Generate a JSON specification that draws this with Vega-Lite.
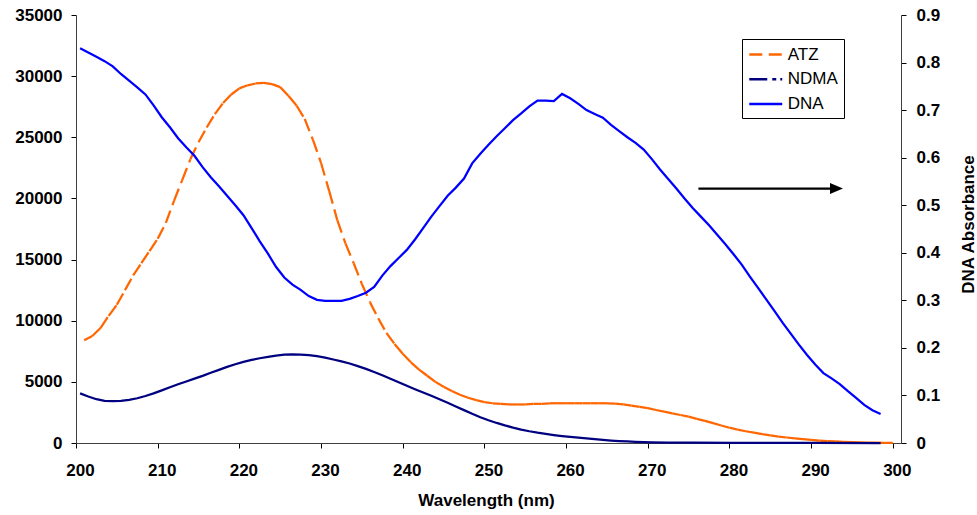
{
  "$schema": "https://vega.github.io/schema/vega-lite/v6.json",
  "width": 825,
  "height": 428,
  "autosize": "none",
  "padding": {"left": 76, "top": 15, "right": 76, "bottom": 72},
  "background": "white",
  "config": {
    "view": {"stroke": null},
    "font": "Liberation Sans",
    "axis": {
      "labelFont": "Liberation Sans", "labelFontSize": 17, "labelFontWeight": "bold", "labelColor": "#000",
      "titleFont": "Liberation Sans", "titleFontSize": 17, "titleFontWeight": "bold", "titleColor": "#000",
      "grid": false, "domainColor": "#404040", "tickColor": "#000", "tickSize": 5, "domainWidth": 1, "tickWidth": 1
    }
  },
  "datasets": {
    "atz": [
      {"nm":201,"v":8400},{"nm":202,"v":8750},{"nm":203,"v":9400},{"nm":204,"v":10400},{"nm":205,"v":11300},
      {"nm":206,"v":12500},{"nm":207,"v":13700},{"nm":208,"v":14700},{"nm":209,"v":15700},{"nm":210,"v":16700},
      {"nm":211,"v":18000},{"nm":212,"v":19800},{"nm":213,"v":21500},{"nm":214,"v":23200},{"nm":215,"v":24600},
      {"nm":216,"v":25800},{"nm":217,"v":26900},{"nm":218,"v":27800},{"nm":219,"v":28500},{"nm":220,"v":29000},
      {"nm":221,"v":29250},{"nm":222,"v":29400},{"nm":223,"v":29450},{"nm":224,"v":29350},{"nm":225,"v":29100},
      {"nm":226,"v":28400},{"nm":227,"v":27600},{"nm":228,"v":26500},{"nm":229,"v":24800},{"nm":230,"v":22900},
      {"nm":231,"v":20600},{"nm":232,"v":18200},{"nm":233,"v":16300},{"nm":234,"v":14700},{"nm":235,"v":13000},
      {"nm":236,"v":11500},{"nm":237,"v":10200},{"nm":238,"v":9000},{"nm":239,"v":8100},{"nm":240,"v":7300},
      {"nm":241,"v":6600},{"nm":242,"v":6000},{"nm":243,"v":5500},{"nm":244,"v":5000},{"nm":245,"v":4600},
      {"nm":246,"v":4250},{"nm":247,"v":3950},{"nm":248,"v":3700},{"nm":249,"v":3500},{"nm":250,"v":3350},
      {"nm":251,"v":3250},{"nm":252,"v":3200},{"nm":253,"v":3150},{"nm":254,"v":3150},{"nm":255,"v":3150},
      {"nm":256,"v":3200},{"nm":257,"v":3200},{"nm":258,"v":3250},{"nm":259,"v":3250},{"nm":260,"v":3250},
      {"nm":261,"v":3250},{"nm":262,"v":3250},{"nm":263,"v":3250},{"nm":264,"v":3250},{"nm":265,"v":3250},
      {"nm":266,"v":3220},{"nm":267,"v":3150},{"nm":268,"v":3060},{"nm":269,"v":2950},{"nm":270,"v":2850},
      {"nm":271,"v":2700},{"nm":272,"v":2560},{"nm":273,"v":2420},{"nm":274,"v":2290},{"nm":275,"v":2150},
      {"nm":276,"v":1980},{"nm":277,"v":1810},{"nm":278,"v":1620},{"nm":279,"v":1430},{"nm":280,"v":1250},
      {"nm":281,"v":1100},{"nm":282,"v":960},{"nm":283,"v":840},{"nm":284,"v":720},{"nm":285,"v":620},
      {"nm":286,"v":530},{"nm":287,"v":450},{"nm":288,"v":380},{"nm":289,"v":310},{"nm":290,"v":250},
      {"nm":291,"v":200},{"nm":292,"v":160},{"nm":293,"v":125},{"nm":294,"v":95},{"nm":295,"v":70},
      {"nm":296,"v":50},{"nm":297,"v":35},{"nm":298,"v":25},{"nm":299,"v":15},{"nm":300,"v":10}
    ],
    "ndma": [
      {"nm":200.5,"v":4060},{"nm":201.5,"v":3800},{"nm":202.5,"v":3580},{"nm":203.5,"v":3450},{"nm":204.5,"v":3420},
      {"nm":205.5,"v":3440},{"nm":206.5,"v":3530},{"nm":207.5,"v":3660},{"nm":208.5,"v":3840},{"nm":209.5,"v":4060},
      {"nm":210.5,"v":4300},{"nm":211.5,"v":4560},{"nm":212.5,"v":4800},{"nm":213.5,"v":5030},{"nm":214.5,"v":5260},
      {"nm":215.5,"v":5490},{"nm":216.5,"v":5740},{"nm":217.5,"v":5980},{"nm":218.5,"v":6220},{"nm":219.5,"v":6440},
      {"nm":220.5,"v":6630},{"nm":221.5,"v":6790},{"nm":222.5,"v":6930},{"nm":223.5,"v":7050},{"nm":224.5,"v":7150},
      {"nm":225.5,"v":7220},{"nm":226.5,"v":7250},{"nm":227.5,"v":7230},{"nm":228.5,"v":7180},{"nm":229.5,"v":7100},
      {"nm":230.5,"v":6980},{"nm":231.5,"v":6830},{"nm":232.5,"v":6680},{"nm":233.5,"v":6500},{"nm":234.5,"v":6290},
      {"nm":235.5,"v":6060},{"nm":236.5,"v":5810},{"nm":237.5,"v":5540},{"nm":238.5,"v":5260},{"nm":239.5,"v":4970},
      {"nm":240.5,"v":4680},{"nm":241.5,"v":4400},{"nm":242.5,"v":4130},{"nm":243.5,"v":3860},{"nm":244.5,"v":3580},
      {"nm":245.5,"v":3290},{"nm":246.5,"v":2990},{"nm":247.5,"v":2690},{"nm":248.5,"v":2390},{"nm":249.5,"v":2110},
      {"nm":250.5,"v":1860},{"nm":251.5,"v":1640},{"nm":252.5,"v":1440},{"nm":253.5,"v":1260},{"nm":254.5,"v":1100},
      {"nm":255.5,"v":960},{"nm":256.5,"v":840},{"nm":257.5,"v":740},{"nm":258.5,"v":650},{"nm":259.5,"v":570},
      {"nm":260.5,"v":500},{"nm":261.5,"v":430},{"nm":262.5,"v":370},{"nm":263.5,"v":310},{"nm":264.5,"v":250},
      {"nm":265.5,"v":200},{"nm":266.5,"v":160},{"nm":267.5,"v":125},{"nm":268.5,"v":95},{"nm":269.5,"v":75},
      {"nm":270.5,"v":60},{"nm":272.5,"v":40},{"nm":275.5,"v":25},{"nm":280.5,"v":12},{"nm":285.5,"v":6},
      {"nm":290.5,"v":2},{"nm":298.5,"v":0}
    ],
    "dna": [
      {"nm":200.5,"v":0.830},{"nm":201.5,"v":0.821},{"nm":202.5,"v":0.812},{"nm":203.5,"v":0.803},{"nm":204.5,"v":0.792},
      {"nm":205.5,"v":0.776},{"nm":206.5,"v":0.762},{"nm":207.5,"v":0.748},{"nm":208.5,"v":0.733},{"nm":209.5,"v":0.710},
      {"nm":210.5,"v":0.685},{"nm":211.5,"v":0.664},{"nm":212.5,"v":0.641},{"nm":213.5,"v":0.622},{"nm":214.5,"v":0.604},
      {"nm":215.5,"v":0.580},{"nm":216.5,"v":0.559},{"nm":217.5,"v":0.540},{"nm":218.5,"v":0.520},{"nm":219.5,"v":0.500},
      {"nm":220.5,"v":0.479},{"nm":221.5,"v":0.452},{"nm":222.5,"v":0.424},{"nm":223.5,"v":0.398},{"nm":224.5,"v":0.370},
      {"nm":225.5,"v":0.348},{"nm":226.5,"v":0.333},{"nm":227.5,"v":0.322},{"nm":228.5,"v":0.309},{"nm":229.5,"v":0.301},
      {"nm":230.5,"v":0.299},{"nm":231.5,"v":0.299},{"nm":232.5,"v":0.299},{"nm":233.5,"v":0.303},{"nm":234.5,"v":0.309},
      {"nm":235.5,"v":0.316},{"nm":236.5,"v":0.328},{"nm":237.5,"v":0.352},{"nm":238.5,"v":0.372},{"nm":239.5,"v":0.389},
      {"nm":240.5,"v":0.406},{"nm":241.5,"v":0.428},{"nm":242.5,"v":0.452},{"nm":243.5,"v":0.476},{"nm":244.5,"v":0.498},
      {"nm":245.5,"v":0.520},{"nm":246.5,"v":0.537},{"nm":247.5,"v":0.556},{"nm":248.5,"v":0.588},{"nm":249.5,"v":0.608},
      {"nm":250.5,"v":0.627},{"nm":251.5,"v":0.645},{"nm":252.5,"v":0.662},{"nm":253.5,"v":0.679},{"nm":254.5,"v":0.693},
      {"nm":255.5,"v":0.708},{"nm":256.5,"v":0.720},{"nm":257.5,"v":0.720},{"nm":258.5,"v":0.719},{"nm":259.5,"v":0.734},
      {"nm":260.5,"v":0.725},{"nm":261.5,"v":0.713},{"nm":262.5,"v":0.700},{"nm":263.5,"v":0.692},{"nm":264.5,"v":0.684},
      {"nm":265.5,"v":0.669},{"nm":266.5,"v":0.656},{"nm":267.5,"v":0.643},{"nm":268.5,"v":0.631},{"nm":269.5,"v":0.617},
      {"nm":270.5,"v":0.597},{"nm":271.5,"v":0.575},{"nm":272.5,"v":0.555},{"nm":273.5,"v":0.535},{"nm":274.5,"v":0.514},
      {"nm":275.5,"v":0.494},{"nm":276.5,"v":0.476},{"nm":277.5,"v":0.458},{"nm":278.5,"v":0.438},{"nm":279.5,"v":0.418},
      {"nm":280.5,"v":0.397},{"nm":281.5,"v":0.375},{"nm":282.5,"v":0.350},{"nm":283.5,"v":0.326},{"nm":284.5,"v":0.302},
      {"nm":285.5,"v":0.278},{"nm":286.5,"v":0.253},{"nm":287.5,"v":0.230},{"nm":288.5,"v":0.207},{"nm":289.5,"v":0.185},
      {"nm":290.5,"v":0.165},{"nm":291.5,"v":0.147},{"nm":292.5,"v":0.136},{"nm":293.5,"v":0.124},{"nm":294.5,"v":0.109},
      {"nm":295.5,"v":0.095},{"nm":296.5,"v":0.080},{"nm":297.5,"v":0.069},{"nm":298.5,"v":0.061}
    ],
    "arrow": [
      {"nm": 276.2, "nm2": 292.4, "head": 293.1, "v": 0.535}
    ]
  },
  "encoding": {
    "x": {
      "field": "nm", "type": "quantitative",
      "scale": {"domain": [200, 301], "nice": false, "zero": false},
      "axis": {
        "values": [200, 210, 220, 230, 240, 250, 260, 270, 280, 290, 300],
        "format": "d", "title": "Wavelength (nm)", "labelFlush": false,
        "labelPadding": 14, "labelOffset": 4,
        "titleX": 410, "titleY": 57, "titleBaseline": "middle", "titleAlign": "center", "titleAnchor": "start"
      }
    }
  },
  "layer": [
    {
      "encoding": {
        "y": {
          "field": "v", "type": "quantitative",
          "scale": {"domain": [0, 35000], "nice": false},
          "axis": {"values": [0, 5000, 10000, 15000, 20000, 25000, 30000, 35000], "format": "d", "title": null, "labelPadding": 9, "labelFlush": false}
        }
      },
      "layer": [
        {
          "data": {"name": "atz"},
          "transform": [
            {"window": [{"op": "lead", "field": "nm", "as": "nm2"}, {"op": "lead", "field": "v", "as": "v2"}], "sort": [{"field": "nm", "order": "ascending"}]},
            {"filter": "isValid(datum.nm2)"}
          ],
          "mark": {"type": "rule", "strokeWidth": 2.25, "strokeDash": [13, 6]},
          "encoding": {
            "x2": {"field": "nm2"},
            "y2": {"field": "v2"},
            "color": {
              "datum": "ATZ", "type": "nominal",
              "scale": {"domain": ["ATZ", "NDMA", "DNA"], "range": ["#FF6600", "#000080", "#0000FF"]},
              "legend": {
                "title": null, "orient": "none", "legendX": 666, "legendY": 24,
                "strokeColor": "#000", "fillColor": "#fff", "padding": 6,
                "labelFont": "Liberation Sans", "labelFontSize": 17, "labelColor": "#000", "labelFontWeight": "normal",
                "symbolType": "M-2,0L2,0", "symbolSize": 272, "symbolStrokeWidth": 2.5, "symbolOffset": 8.25,
                "labelOffset": 12.5, "rowPadding": 6.7,
                "encode": {"symbols": {"update": {"strokeDash": {"signal": "datum.value === 'ATZ' ? [13, 6.5] : (datum.value === 'NDMA' ? [18, 5, 4, 4, 4, 4] : [1, 0])"}}}}
              }
            }
          }
        },
        {
          "data": {"name": "ndma"},
          "mark": {"type": "line", "strokeWidth": 2.25},
          "encoding": {"color": {"datum": "NDMA", "type": "nominal"}}
        }
      ]
    },
    {
      "encoding": {
        "y": {
          "field": "v", "type": "quantitative",
          "scale": {"domain": [0, 0.9], "nice": false},
          "axis": {
            "orient": "right", "values": [0, 0.1, 0.2, 0.3, 0.4, 0.5, 0.6, 0.7, 0.8, 0.9], "format": ".1~f",
            "title": "DNA Absorbance", "titleAngle": 270, "titleX": 67, "titleY": 209, "labelFlush": false,
            "titleAlign": "center", "titleBaseline": "middle", "labelPadding": 10
          }
        }
      },
      "layer": [
        {
          "data": {"name": "dna"},
          "mark": {"type": "line", "strokeWidth": 2.25},
          "encoding": {"color": {"datum": "DNA", "type": "nominal"}}
        },
        {
          "data": {"name": "arrow"},
          "mark": {"type": "rule", "strokeWidth": 2.2, "color": "#000"},
          "encoding": {"x2": {"field": "nm2"}}
        },
        {
          "data": {"name": "arrow"},
          "mark": {"type": "point", "shape": "M-1,-0.85L1,0L-1,0.85Z", "filled": true, "color": "#000", "size": 169, "opacity": 1},
          "encoding": {"x": {"field": "head", "type": "quantitative"}}
        }
      ]
    }
  ],
  "resolve": {"scale": {"y": "independent"}}
}
